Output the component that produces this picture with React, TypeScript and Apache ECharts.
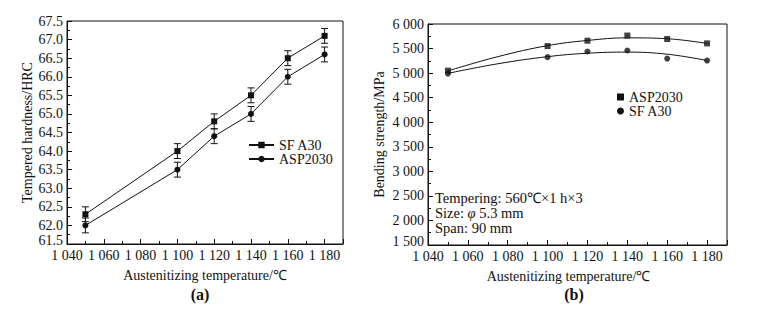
import React, { useEffect, useRef } from "react";
import * as echarts from "echarts";

// ---- Data ----
const temps = [1050, 1100, 1120, 1140, 1160, 1180];

// (a) tempered hardness, HRC
const hardSFA30 = [62.3, 64.0, 64.8, 65.5, 66.5, 67.1];
const hardASP2030 = [62.0, 63.5, 64.4, 65.0, 66.0, 66.6];
const hardErr = [0.2, 0.2, 0.2, 0.2, 0.2, 0.2];

// (b) bending strength, MPa
const bendASP2030 = [5050, 5550, 5660, 5765, 5695, 5605];
const bendSFA30 = [4990, 5325, 5440, 5460, 5295, 5255];

// fitted curves
const fitTemps = [1050, 1075, 1100, 1120, 1140, 1160, 1180];
const fitASP2030 = [5045, 5335, 5560, 5665, 5718, 5700, 5605];
const fitSFA30 = [4995, 5190, 5335, 5405, 5428, 5385, 5258];

const legendA = ["SF A30", "ASP2030"];
const legendB = ["ASP2030", "SF A30"];
const noteLines = ["Tempering: 560℃×1 h×3", "Size: {i|φ} 5.3 mm", "Span: 90 mm"];

const FONT = "'Liberation Serif', 'Times New Roman', serif";
const BLACK = "#111";
const TICK_FS = 14;

const fmtThousands = (v: number) => {
  const th = Math.floor(v / 1000);
  const rest = String(Math.round(v % 1000)).padStart(3, "0");
  return th > 0 ? `${th} ${rest}` : String(v);
};

const zip = (xs: number[], ys: number[]) => xs.map((x, i) => [x, ys[i]]);

function errorBarSeries(name: string, ys: number[]) {
  return {
    type: "custom",
    name: name + " err",
    xAxisIndex: 0,
    yAxisIndex: 0,
    silent: true,
    z: 3,
    data: temps.map((t, i) => [t, ys[i] - hardErr[i], ys[i] + hardErr[i]]),
    renderItem: (params: any, api: any) => {
      const lo = api.coord([api.value(0), api.value(1)]);
      const hi = api.coord([api.value(0), api.value(2)]);
      const hw = 3.5;
      const style = { stroke: BLACK, lineWidth: 1 };
      return {
        type: "group",
        children: [
          { type: "line", shape: { x1: lo[0], y1: lo[1], x2: hi[0], y2: hi[1] }, style },
          { type: "line", shape: { x1: lo[0] - hw, y1: lo[1], x2: lo[0] + hw, y2: lo[1] }, style },
          { type: "line", shape: { x1: hi[0] - hw, y1: hi[1], x2: hi[0] + hw, y2: hi[1] }, style },
        ],
      };
    },
  };
}

const axisCommon = {
  axisLine: { show: true, onZero: false, lineStyle: { color: BLACK, width: 1 } },
  axisTick: { show: true, inside: true, length: 5, lineStyle: { color: BLACK } },
  minorTick: { show: true, splitNumber: 2, length: 3, lineStyle: { color: BLACK } },
  splitLine: { show: false },
};

const nameStyle = { fontFamily: FONT, fontSize: 14, color: BLACK };

const yLabel = (minVal: number, fmt: (v: number) => string) => ({
  fontFamily: FONT,
  fontSize: TICK_FS,
  color: BLACK,
  margin: 4,
  formatter: (v: number) => (v === minVal ? `{low|${fmt(v)}}` : fmt(v)),
  rich: {
    low: { fontFamily: FONT, fontSize: TICK_FS, color: BLACK, padding: [0, 0, 8, 0] },
  },
});

export default function App() {
  const ref = useRef<HTMLDivElement>(null);

  useEffect(() => {
    if (!ref.current) return;
    const chart = echarts.init(ref.current, undefined, { renderer: "svg" });
    const option: any = {
      animation: false,
      backgroundColor: "#fff",
      textStyle: { fontFamily: FONT, color: BLACK },
      grid: [
        { left: 67, top: 21, width: 276, height: 223, show: true, borderColor: BLACK, borderWidth: 1, backgroundColor: "transparent" },
        { left: 428, top: 24, width: 299, height: 221, show: true, borderColor: BLACK, borderWidth: 1, backgroundColor: "transparent" },
      ],
      xAxis: [0, 1].map((g) => ({
        ...axisCommon,
        type: "value",
        gridIndex: g,
        min: 1040,
        max: 1190,
        interval: 20,
        name: "Austenitizing temperature/℃",
        nameLocation: "middle",
        nameGap: 24,
        nameTextStyle: g === 1 ? { ...nameStyle, padding: [0, 18, 0, 0] } : nameStyle,
        axisLabel: {
          fontFamily: FONT,
          fontSize: TICK_FS,
          color: BLACK,
          margin: 4,
          showMaxLabel: false,
          formatter: (v: number) => fmtThousands(v),
        },
      })),
      yAxis: [
        {
          ...axisCommon,
          type: "value",
          gridIndex: 0,
          min: 61.5,
          max: 67.5,
          interval: 0.5,
          name: "Tempered hardness/HRC",
          nameLocation: "middle",
          nameGap: 33,
          nameTextStyle: nameStyle,
          axisLabel: yLabel(61.5, (v) => v.toFixed(1)),
        },
        {
          ...axisCommon,
          type: "value",
          gridIndex: 1,
          min: 1500,
          max: 6000,
          interval: 500,
          name: "Bending strength/MPa",
          nameLocation: "middle",
          nameGap: 42,
          nameTextStyle: nameStyle,
          axisLabel: yLabel(1500, fmtThousands),
        },
      ],
      legend: [
        {
          data: legendA,
          orient: "vertical",
          left: 248,
          top: 138,
          padding: 0,
          itemWidth: 25,
          itemHeight: 8,
          itemGap: 0,
          selectedMode: false,
          textStyle: { fontFamily: FONT, fontSize: 14, color: BLACK },
        },
        {
          data: legendB.map((n) => ({ name: n, icon: n === "ASP2030" ? "rect" : "circle" })),
          orient: "vertical",
          left: 617,
          top: 90,
          padding: 0,
          itemWidth: 7,
          itemHeight: 7,
          itemGap: 0,
          selectedMode: false,
          textStyle: { fontFamily: FONT, fontSize: 14, color: BLACK },
        },
      ],
      series: [
        {
          type: "line",
          name: "SF A30",
          xAxisIndex: 0,
          yAxisIndex: 0,
          data: zip(temps, hardSFA30),
          symbol: "rect",
          symbolSize: 6,
          itemStyle: { color: BLACK },
          lineStyle: { color: BLACK, width: 1 },
          z: 4,
        },
        {
          type: "line",
          name: "ASP2030",
          xAxisIndex: 0,
          yAxisIndex: 0,
          data: zip(temps, hardASP2030),
          symbol: "circle",
          symbolSize: 6,
          itemStyle: { color: BLACK },
          lineStyle: { color: BLACK, width: 1 },
          z: 4,
        },
        errorBarSeries("SF A30", hardSFA30),
        errorBarSeries("ASP2030", hardASP2030),
        {
          type: "scatter",
          name: "ASP2030",
          xAxisIndex: 1,
          yAxisIndex: 1,
          data: zip(temps, bendASP2030),
          symbol: "rect",
          symbolSize: 6,
          itemStyle: { color: BLACK },
          z: 4,
        },
        {
          type: "scatter",
          name: "SF A30",
          xAxisIndex: 1,
          yAxisIndex: 1,
          data: zip(temps, bendSFA30),
          symbol: "circle",
          symbolSize: 6,
          itemStyle: { color: BLACK },
          z: 4,
        },
        {
          type: "line",
          name: "ASP2030 fit",
          xAxisIndex: 1,
          yAxisIndex: 1,
          data: zip(fitTemps, fitASP2030),
          smooth: 0.4,
          showSymbol: false,
          symbol: "none",
          lineStyle: { color: BLACK, width: 1 },
          silent: true,
        },
        {
          type: "line",
          name: "SF A30 fit",
          xAxisIndex: 1,
          yAxisIndex: 1,
          data: zip(fitTemps, fitSFA30),
          smooth: 0.4,
          showSymbol: false,
          symbol: "none",
          lineStyle: { color: BLACK, width: 1 },
          silent: true,
        },
      ],
      graphic: [
        ...noteLines.map((t, i) => ({
          type: "text",
          x: 435,
          y: 198 + i * 15,
          style: {
            text: t,
            fontFamily: FONT,
            fontSize: 14.5,
            fill: BLACK,
            verticalAlign: "middle",
            rich: { i: { fontFamily: FONT, fontSize: 14.5, fontStyle: "italic", fill: BLACK } },
          },
        })),
        {
          type: "text",
          x: 200,
          y: 294,
          style: { text: "(a)", fontFamily: FONT, fontSize: 16, fontWeight: "bold", fill: BLACK, align: "center", verticalAlign: "middle" },
        },
        {
          type: "text",
          x: 574,
          y: 294,
          style: { text: "(b)", fontFamily: FONT, fontSize: 16, fontWeight: "bold", fill: BLACK, align: "center", verticalAlign: "middle" },
        },
      ],
    };
    chart.setOption(option);
    return () => chart.dispose();
  }, []);

  return (
    <div
      ref={ref}
      style={{ position: "absolute", left: 0, top: 0, width: 766, height: 314, background: "#fff" }}
    />
  );
}
